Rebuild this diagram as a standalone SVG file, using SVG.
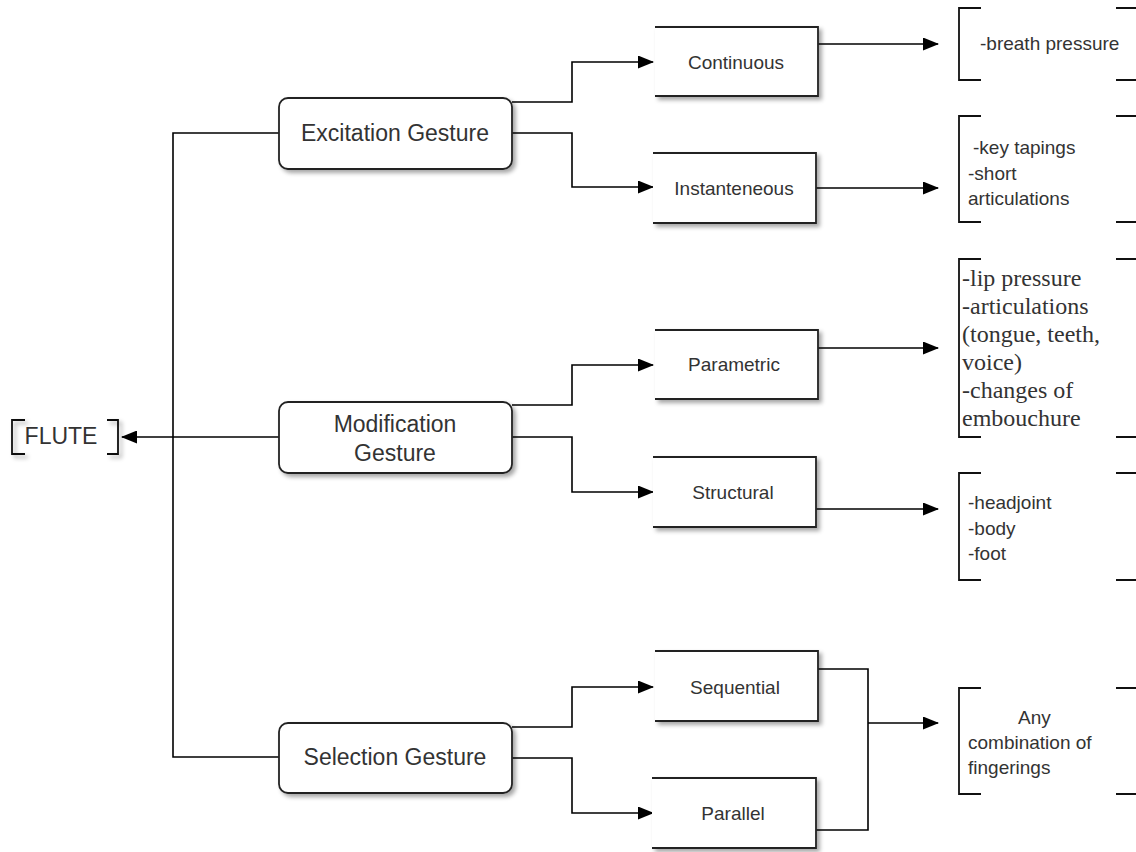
<svg xmlns="http://www.w3.org/2000/svg" width="1136" height="852" viewBox="0 0 1136 852">
  <defs>
    <filter id="shadow" x="-10%" y="-10%" width="130%" height="140%">
      <feDropShadow dx="3" dy="3" stdDeviation="2" flood-color="#000" flood-opacity="0.35"/>
    </filter>
    <marker id="arrow" viewBox="0 0 16 13" refX="15" refY="6.5" markerUnits="userSpaceOnUse" markerWidth="16" markerHeight="13" orient="auto">
      <path d="M0,0 L16,6.5 L0,13 z" fill="#000"/>
    </marker>
    <style>
      .box { fill: #fff; stroke: #222; stroke-width: 1.8; filter: url(#shadow); }
      .open { fill: #fff; stroke: #222; stroke-width: 1.8; filter: url(#shadow); }
      .br { fill: none; stroke: #111; stroke-width: 1.8; }
      .conn { fill: none; stroke: #000; stroke-width: 1.6; }
      .arr { marker-end: url(#arrow); }
      .g { font-family: "Liberation Sans", Arial, sans-serif; font-size: 23px; fill: #333; text-anchor: middle; }
      .s { font-family: "Liberation Sans", Arial, sans-serif; font-size: 19px; fill: #333; text-anchor: middle; }
      .l { font-family: "Liberation Sans", Arial, sans-serif; font-size: 19px; fill: #333; }
      .t { font-family: "Liberation Serif", "Times New Roman", serif; font-size: 24px; fill: #333; }
    </style>
  </defs>
  <rect width="1136" height="852" fill="#fff"/>

  <g id="connectors">
    <path class="conn" d="M279,133 H173 V757 H279"/>
    <path class="conn arr" d="M279,437 H122"/>
    <path class="conn arr" d="M512,102 H572 V62 H653"/>
    <path class="conn arr" d="M512,133 H572 V187 H653"/>
    <path class="conn arr" d="M818,44 H938"/>
    <path class="conn arr" d="M816,188 H938"/>
    <path class="conn arr" d="M512,405 H572 V365 H653"/>
    <path class="conn arr" d="M512,437 H572 V492 H653"/>
    <path class="conn arr" d="M818,348 H938"/>
    <path class="conn arr" d="M816,509 H938"/>
    <path class="conn arr" d="M512,727 H572 V687 H653"/>
    <path class="conn arr" d="M512,758 H572 V813 H653"/>
    <path class="conn" d="M818,669 H868 V830 H816"/>
    <path class="conn arr" d="M868,723 H938"/>
  </g>

  <g id="flute">
    <g filter="url(#shadow)">
      <path class="br" d="M25,420 H12 V454 H25"/>
      <path class="br" d="M107,420 H118 V454 H107"/>
    </g>
    <text class="g" x="61" y="444">FLUTE</text>
  </g>

  <g id="excitation">
    <rect class="box" x="279" y="98" width="233" height="71" rx="9"/>
    <text class="g" x="395" y="141">Excitation Gesture</text>
  </g>
  <g id="modification">
    <rect class="box" x="279" y="402" width="233" height="71" rx="9"/>
    <text class="g" x="395" y="432">Modification</text>
    <text class="g" x="395" y="461">Gesture</text>
  </g>
  <g id="selection">
    <rect class="box" x="279" y="723" width="233" height="70" rx="9"/>
    <text class="g" x="395" y="765">Selection Gesture</text>
  </g>

  <g id="continuous">
    <path class="open" d="M655,27 H818 V96 H655"/>
    <text class="s" x="736" y="69">Continuous</text>
  </g>
  <g id="instantaneous">
    <path class="open" d="M653,153 H816 V223 H653"/>
    <text class="s" x="734" y="195">Instanteneous</text>
  </g>
  <g id="parametric">
    <path class="open" d="M655,330 H818 V399 H655"/>
    <text class="s" x="734" y="371">Parametric</text>
  </g>
  <g id="structural">
    <path class="open" d="M653,457 H816 V527 H653"/>
    <text class="s" x="733" y="499">Structural</text>
  </g>
  <g id="sequential">
    <path class="open" d="M655,651 H818 V721 H655"/>
    <text class="s" x="735" y="694">Sequential</text>
  </g>
  <g id="parallel">
    <path class="open" d="M652,778 H816 V848 H652"/>
    <text class="s" x="733" y="820">Parallel</text>
  </g>

  <g id="breath">
    <path class="br" d="M981,8 H959 V80 H981"/>
    <path class="br" d="M1116,8 H1136 M1116,80 H1136"/>
    <text class="l" x="980" y="50">-breath pressure</text>
  </g>
  <g id="keys">
    <path class="br" d="M981,116 H959 V222 H981"/>
    <path class="br" d="M1116,116 H1136 M1116,222 H1136"/>
    <text class="l" x="973" y="154">-key tapings</text>
    <text class="l" x="968" y="180">-short</text>
    <text class="l" x="968" y="205">articulations</text>
  </g>
  <g id="lip">
    <path class="br" d="M981,259 H959 V437 H981"/>
    <path class="br" d="M1116,259 H1136 M1116,437 H1136"/>
    <text class="t" x="962" y="286">-lip pressure</text>
    <text class="t" x="962" y="314">-articulations</text>
    <text class="t" x="962" y="342">(tongue, teeth,</text>
    <text class="t" x="962" y="370">voice)</text>
    <text class="t" x="962" y="398">-changes of</text>
    <text class="t" x="962" y="426">embouchure</text>
  </g>
  <g id="parts">
    <path class="br" d="M981,473 H959 V580 H981"/>
    <path class="br" d="M1116,473 H1136 M1116,580 H1136"/>
    <text class="l" x="968" y="509">-headjoint</text>
    <text class="l" x="968" y="535">-body</text>
    <text class="l" x="968" y="560">-foot</text>
  </g>
  <g id="fingerings">
    <path class="br" d="M981,688 H959 V794 H981"/>
    <path class="br" d="M1116,688 H1136 M1116,794 H1136"/>
    <text class="l" x="1018" y="724">Any</text>
    <text class="l" x="968" y="749">combination of</text>
    <text class="l" x="968" y="774">fingerings</text>
  </g>
</svg>
